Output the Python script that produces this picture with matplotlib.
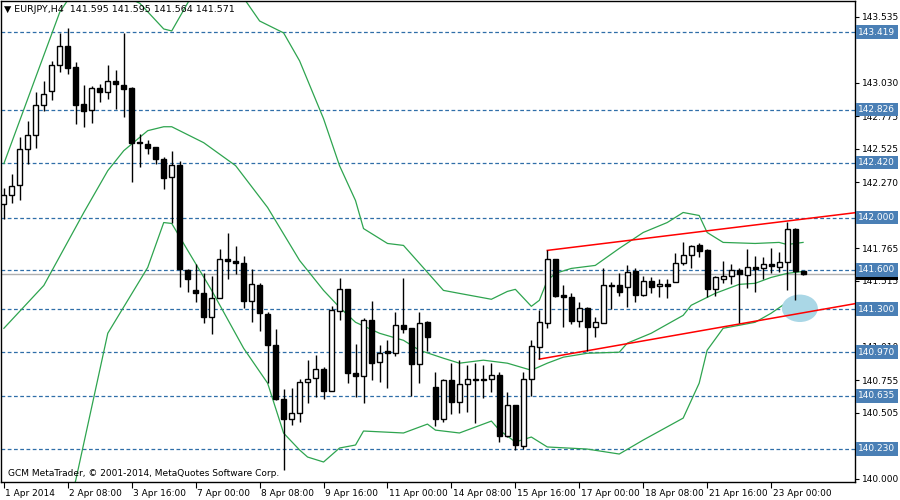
import matplotlib
matplotlib.use("Agg")
import matplotlib.pyplot as plt
from matplotlib.patches import Rectangle, Ellipse
from matplotlib.transforms import blended_transform_factory
import numpy as np

# ---- data (EURJPY H4) ----
opens = [142.107,142.169,142.252,142.527,142.634,142.863,142.970,143.168,143.314,143.153,
         142.871,142.825,142.993,142.962,143.046,143.016,142.993,142.575,142.565,142.543,
         142.451,142.314,142.405,141.596,141.443,141.421,141.238,141.383,141.680,141.665,
         141.650,141.360,141.482,141.260,141.024,140.611,140.459,140.505,140.741,140.772,
         140.840,140.672,141.283,141.451,140.810,140.787,141.214,140.894,140.978,140.962,
         141.176,141.153,140.878,141.199,140.703,140.459,140.756,140.588,140.726,140.764,
         140.764,140.764,140.794,140.329,140.566,140.252,140.764,141.008,141.191,141.680,
         141.405,141.390,141.207,141.306,141.161,141.191,141.474,141.482,141.466,141.588,
         141.405,141.512,141.474,141.489,141.504,141.649,141.711,141.787,141.749,141.451,
         141.527,141.550,141.596,141.558,141.619,141.611,141.642,141.619,141.657,141.909,
         141.595]
highs = [142.230,142.337,142.619,142.741,142.962,143.046,143.199,143.413,143.451,143.191,
         143.016,143.008,143.023,143.168,143.130,143.413,143.000,142.642,142.596,142.543,
         142.466,142.512,142.436,141.604,141.642,141.573,141.550,141.757,141.879,141.780,
         141.703,141.604,141.497,141.275,141.146,140.688,140.695,140.764,140.909,140.947,
         140.856,141.321,141.535,141.451,141.031,141.230,141.359,141.024,141.062,141.275,
         141.535,141.153,141.275,141.207,140.817,140.764,140.886,140.909,140.871,140.886,
         140.871,140.886,140.817,140.665,140.566,140.817,141.062,141.291,141.749,141.680,
         141.482,141.420,141.352,141.314,141.237,141.611,141.504,141.573,141.634,141.611,
         141.550,141.543,141.527,141.527,141.726,141.810,141.787,141.802,141.756,141.550,
         141.665,141.642,141.611,141.756,141.703,141.695,141.764,141.733,141.970,141.917,
         141.595]
lows = [141.992,142.115,142.138,142.413,142.535,142.818,142.902,143.115,143.100,142.718,
        142.695,142.726,142.886,142.909,142.833,142.772,142.275,142.390,142.489,142.413,
        142.215,141.961,141.466,141.428,141.352,141.192,141.108,141.383,141.527,141.566,
        141.306,141.199,141.130,140.733,140.603,140.069,140.413,140.436,140.581,140.627,
        140.611,140.672,141.214,140.733,140.627,140.581,140.756,140.741,140.695,140.939,
        141.115,140.634,140.733,140.978,140.405,140.436,140.497,140.505,140.512,140.428,
        140.619,140.665,140.283,140.321,140.222,140.230,140.634,140.917,141.153,141.390,
        141.161,141.184,141.161,140.978,141.085,141.191,141.298,141.398,141.314,141.352,
        141.398,141.420,141.390,141.382,141.504,141.634,141.611,141.695,141.390,141.398,
        141.497,141.489,141.191,141.459,141.428,141.527,141.573,141.581,141.443,141.367,
        141.564]
closes = [142.169,142.245,142.527,142.634,142.863,142.947,143.168,143.314,143.145,142.863,
          142.818,142.993,142.962,143.046,143.023,142.985,142.573,142.573,142.535,142.451,
          142.306,142.405,141.604,141.527,141.421,141.238,141.383,141.680,141.665,141.650,
          141.360,141.489,141.268,141.024,140.611,140.459,140.505,140.741,140.764,140.840,
          140.672,141.291,141.451,140.810,140.787,141.214,140.886,140.962,140.962,141.176,
          141.146,140.878,141.191,141.085,140.459,140.756,140.588,140.726,140.764,140.756,
          140.756,140.794,140.329,140.566,140.260,140.764,141.016,141.199,141.680,141.398,
          141.390,141.207,141.306,141.161,141.199,141.482,141.482,141.428,141.581,141.405,
          141.512,141.466,141.489,141.474,141.649,141.711,141.779,141.741,141.451,141.543,
          141.550,141.596,141.565,141.619,141.604,141.642,141.627,141.657,141.909,141.588,
          141.571]

upper_idx = [0,4,7,10,13,15,17,20,21,23,25,28,30,32,35,37,40,42,44,45,48,50,53,55,57,61,63,64,66,67,68,69,71,74,77,80,83,85,87,88,90,94,97,98,100]
upper_val = [142.413,143.077,143.573,143.848,143.81,143.695,143.64,143.443,143.428,143.642,143.848,143.81,143.68,143.504,143.413,143.199,142.756,142.397,142.130,141.916,141.802,141.787,141.581,141.443,141.420,141.375,141.435,141.451,141.321,141.367,141.519,141.573,141.611,141.634,141.764,141.886,141.962,142.039,142.016,141.886,141.810,141.802,141.810,141.794,141.810]
mid_idx = [0,5,10,13,15,18,20,21,25,29,33,37,38,40,42,44,47,50,52,55,57,60,63,66,68,70,73,77,78,81,85,86,89,92,94,96,98,100]
mid_val = [141.153,141.481,142.039,142.359,142.512,142.665,142.695,142.695,142.573,142.397,142.077,141.672,141.596,141.443,141.313,141.199,141.115,141.061,140.985,140.924,140.886,140.909,140.886,140.832,140.886,140.932,140.962,140.970,141.039,141.115,141.252,141.329,141.420,141.489,141.497,141.542,141.573,141.588]
lower_idx = [8,9,13,18,20,21,23,26,30,33,35,37,38,40,42,44,45,50,53,54,57,61,62,64,66,68,73,77,80,85,87,88,90,94,96,98,100]
lower_val = [139.764,139.993,141.115,141.619,141.962,141.955,141.749,141.443,141.000,140.733,140.351,140.222,140.168,140.130,140.237,140.260,140.367,140.352,140.420,140.374,140.352,140.443,140.374,140.283,140.321,140.245,140.229,140.191,140.298,140.466,140.733,140.985,141.153,141.199,141.268,141.352,141.375]

level_prices = [143.419,142.826,142.420,142.000,141.600,141.300,140.970,140.635,140.230]
level_labels = ["143.419","142.826","142.420","142.000","141.600","141.300","140.970","140.635","140.230"]
tick_prices = [143.535,143.030,142.775,142.525,142.270,141.765,141.515,141.010,140.755,140.505,140.000]
date_labels = ["1 Apr 2014","2 Apr 08:00","3 Apr 16:00","7 Apr 00:00","8 Apr 08:00","9 Apr 16:00",
               "11 Apr 00:00","14 Apr 08:00","15 Apr 16:00","17 Apr 00:00","18 Apr 08:00",
               "21 Apr 16:00","23 Apr 00:00"]
bid = 141.571
trend_upper = ([68,106.75],[141.749,142.039])
trend_lower = ([67,106.75],[140.917,141.344])

# ---- figure ----
fig = plt.figure(figsize=(9,5), dpi=100)
ax = fig.add_axes([0.001, 0.036, 0.949, 0.962])
ax.set_xlim(-0.375, 106.5)
ax.set_ylim(139.977, 143.657)
for s in ax.spines.values():
    s.set_linewidth(1); s.set_color('black')

lvl_col = '#2f6ea8'
for p in level_prices:
    ax.axhline(p, color=lvl_col, lw=0.9, ls=(0,(3,2)), zorder=1)
ax.axhline(bid, color='#b0b0b0', lw=1, zorder=1)

g = '#2ea44f'
ax.plot(upper_idx, upper_val, color=g, lw=0.9, zorder=2)
ax.plot(mid_idx, mid_val, color=g, lw=0.9, zorder=2)
ax.plot(lower_idx, lower_val, color=g, lw=0.9, zorder=2)

ax.plot(*trend_upper, color='red', lw=1.1, zorder=3)
ax.plot(*trend_lower, color='red', lw=1.1, zorder=3)

ax.add_patch(Ellipse((99.6,141.306), 4.5, 0.21, color='#aad7e6', zorder=2.5, lw=0))

w = 0.62
for i,(o,h,l,c) in enumerate(zip(opens,highs,lows,closes)):
    ax.plot([i,i],[l,h], color='black', lw=1, zorder=4, solid_capstyle='butt')
    lo, hi = min(o,c), max(o,c)
    fc = 'white' if c >= o else 'black'
    ax.add_patch(Rectangle((i-w/2, lo), w, max(hi-lo,0.006), facecolor=fc,
                           edgecolor='black', lw=1, zorder=5))

# axes ticks
ax.set_xticks([8*k for k in range(len(date_labels))])
ax.set_xticklabels([])
ax.tick_params(axis='x', direction='out', length=4, width=0.8)
ax.yaxis.tick_right()
ax.set_yticks(tick_prices)
ax.set_yticklabels([f"{t:.3f}" for t in tick_prices], fontsize=6.5, family='DejaVu Sans')
ax.tick_params(axis='y', direction='out', length=3, width=0.8, pad=2)

for k, lab in enumerate(date_labels):
    ax.text(8*k+0.2, -0.015, lab, transform=blended_transform_factory(ax.transData, ax.transAxes),
            ha='left', va='top', fontsize=6.5, clip_on=False)

tr = blended_transform_factory(ax.transAxes, ax.transData)
for p, lab in zip(level_prices, level_labels):
    ax.text(1.004, p, lab, transform=tr, ha='left', va='center', fontsize=6.5, color='white',
            bbox=dict(boxstyle='square,pad=0.25', fc='#4a7fb5', ec='none'), clip_on=False, zorder=10)
ax.text(1.004, bid, f"{bid:.3f}", transform=tr, ha='left', va='center', fontsize=6.5, color='white',
        bbox=dict(boxstyle='square,pad=0.25', fc='black', ec='none'), clip_on=False, zorder=9)

ax.text(0.004, 0.992, "\u25BC EURJPY,H4  141.595 141.595 141.564 141.571", transform=ax.transAxes,
        ha='left', va='top', fontsize=6.8)
ax.text(0.008, 0.008, "GCM MetaTrader, \u00A9 2001-2014, MetaQuotes Software Corp.", transform=ax.transAxes,
        ha='left', va='bottom', fontsize=6.5)

fig.savefig("out.png", dpi=100, facecolor='white')
